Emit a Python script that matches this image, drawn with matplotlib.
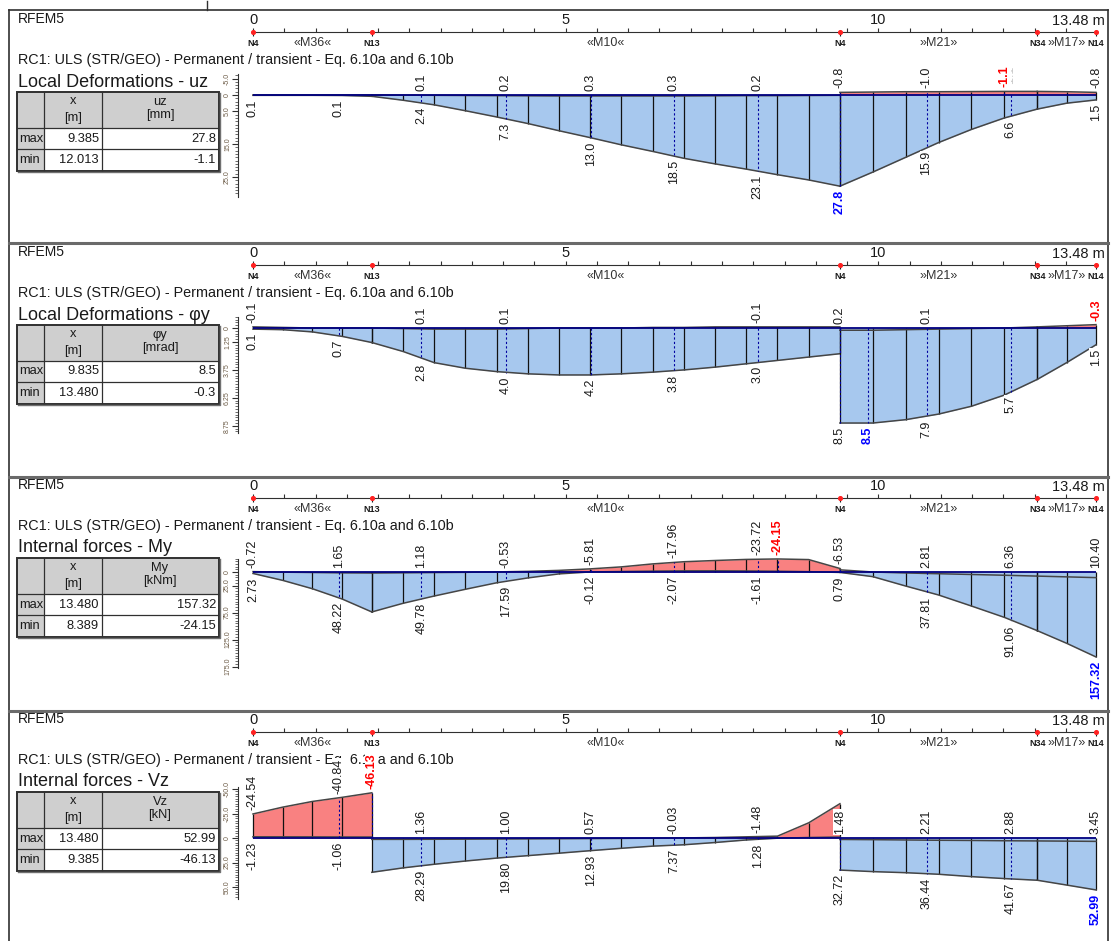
import numpy as np
import matplotlib
matplotlib.use('Agg')
import matplotlib.pyplot as plt
from matplotlib.patches import Rectangle
from matplotlib.ticker import FixedLocator

plt.rcParams['font.family'] = ['Liberation Sans', 'DejaVu Sans']

W, H = 1112, 941
X0PX, X1PX = 253, 1096          # pixel position of x=0 and x=13.48 m
L = 13.48
S = (X1PX - X0PX) / L           # px per metre

# structure: members, division points, nodes
x_m36 = [0.0, 0.475, 0.95, 1.425, 1.9]
x_m10 = [1.9, 2.399, 2.898, 3.397, 3.896, 4.395, 4.894, 5.393, 5.892,
         6.391, 6.89, 7.389, 7.888, 8.387, 8.886, 9.385]
x_m21 = [9.385, 9.911, 10.437, 10.963, 11.488, 12.014, 12.54]
x_m17 = [12.54, 13.01, 13.48]
member_x = [x_m36, x_m10, x_m21, x_m17]
member_names = ['«M36«', '«M10«', '»M21»', '»M17»']
node_x = [0.0, 1.9, 9.385, 12.54, 13.48]
node_names = ['N4', 'N13', 'N4', 'N34', 'N14']

# ---- Local deformations uz [mm]  (per member: M36, M10, M21, M17)
uz_max = [[0.1, 0.1, 0.1, 0.15, 0.4],
          [0.4, 1.6, 3.0, 4.8, 6.7, 8.7, 10.9, 13.0, 15.2, 17.2, 19.3, 21.0, 22.6, 24.3, 25.9, 27.8],
          [27.8, 23.5, 19.0, 14.5, 10.5, 7.0, 4.3],
          [4.3, 2.5, 1.5]]
uz_min = [[0.0, 0.0, 0.0, 0.0, 0.0],
          [0.0, 0.05, 0.1, 0.15, 0.2, 0.25, 0.3, 0.3, 0.3, 0.3, 0.3, 0.25, 0.2, 0.2, 0.15, 0.1],
          [-0.8, -0.9, -1.0, -1.0, -1.05, -1.1, -1.1],
          [-1.1, -1.0, -0.8]]
uz_upper = [(2.69, '0.1', ''), (4.04, '0.2', ''), (5.40, '0.3', ''), (6.73, '0.3', ''),
            (8.07, '0.2', ''), (9.385, '-0.8', ''), (10.77, '-1.0', ''),
            (12.115, '-1.1', 'g'), (12.013, '-1.1', 'r'), (13.48, '-0.8', '')]
uz_lower = [(0.0, '0.1', ''), (1.37, '0.1', ''), (2.69, '2.4', ''), (4.04, '7.3', ''),
            (5.40, '13.0', ''), (6.73, '18.5', ''), (8.07, '23.1', ''), (9.385, '27.8', 'b'),
            (10.77, '15.9', ''), (12.115, '6.6', ''), (13.48, '1.5', '')]

# ---- Local deformations phi_y [mrad]
phi_max = [[0.1, 0.15, 0.35, 0.75, 1.3],
           [1.3, 2.1, 3.1, 3.6, 3.9, 4.1, 4.2, 4.2, 4.1, 3.95, 3.75, 3.5, 3.2, 2.9, 2.6, 2.3],
           [8.5, 8.5, 8.2, 7.7, 7.0, 6.0, 4.6],
           [4.6, 3.1, 1.5]]
phi_min = [[-0.1, -0.05, 0.0, 0.0, 0.0],
           [0.0, 0.05, 0.1, 0.1, 0.1, 0.05, 0.0, 0.0, 0.0, -0.05, -0.05, -0.1, -0.1, -0.1, -0.1, -0.1],
           [0.2, 0.2, 0.15, 0.1, 0.05, 0.0, -0.1],
           [-0.1, -0.2, -0.3]]
phi_upper = [(0.0, '-0.1', ''), (2.69, '0.1', ''), (4.04, '0.1', ''), (8.07, '-0.1', ''),
             (9.385, '0.2', ''), (10.77, '0.1', ''), (13.48, '-0.3', 'r')]
phi_lower = [(0.0, '0.1', ''), (1.37, '0.7', ''), (2.69, '2.8', ''), (4.04, '4.0', ''),
             (5.40, '4.2', ''), (6.73, '3.8', ''), (8.07, '3.0', ''), (9.385, '8.5', ''),
             (9.835, '8.5', 'b'), (10.77, '7.9', ''), (12.115, '5.7', ''), (13.48, '1.5', '')]

# ---- Internal forces My [kNm]
my_max = [[2.73, 15.5, 31.0, 50.0, 74.0],
          [74.0, 58.0, 44.5, 32.0, 20.0, 11.0, 3.5, -0.12, -0.9, -1.6, -2.15, -2.2, -1.9, -1.4, -0.6, 0.79],
          [0.79, 8.6, 26.0, 42.6, 63.0, 84.0, 108.6],
          [108.6, 132.0, 157.32]]
my_min = [[-0.72, 0.3, 0.9, 1.6, 1.9],
          [1.9, 1.5, 1.0, 0.6, -0.2, -1.2, -3.0, -5.81, -9.5, -15.0, -19.0, -21.3, -23.3, -24.15, -23.0, -6.53],
          [-4.0, 0.0, 1.8, 3.2, 4.6, 6.0, 7.6],
          [7.6, 9.0, 10.40]]
my_upper = [(0.0, '-0.72', ''), (1.37, '1.65', ''), (2.69, '1.18', ''), (4.04, '-0.53', ''),
            (5.40, '-5.81', ''), (6.73, '-17.96', ''), (8.07, '-23.72', ''), (8.389, '-24.15', 'r'),
            (9.385, '-6.53', ''), (10.77, '2.81', ''), (12.115, '6.36', ''), (13.48, '10.40', '')]
my_lower = [(0.0, '2.73', ''), (1.37, '48.22', ''), (2.69, '49.78', ''), (4.04, '17.59', ''),
            (5.40, '-0.12', ''), (6.73, '-2.07', ''), (8.07, '-1.61', ''), (9.385, '0.79', ''),
            (10.77, '37.81', ''), (12.115, '91.06', ''), (13.48, '157.32', 'b')]

# ---- Internal forces Vz [kN]
vz_max = [[-1.23, -1.2, -1.15, -1.05, -1.0],
          [35.0, 30.5, 26.8, 23.5, 20.5, 18.0, 15.5, 12.93, 10.5, 8.3, 6.9, 4.6, 2.0, 0.2, -0.5, -1.0],
          [32.72, 34.3, 35.4, 37.0, 39.4, 41.4, 43.1],
          [43.1, 48.0, 52.99]]
vz_min = [[-24.54, -31.5, -37.3, -41.5, -46.13],
          [1.4, 1.4, 1.3, 1.2, 1.05, 0.9, 0.75, 0.57, 0.4, 0.15, -0.1, -0.5, -1.2, -1.9, -15.5, -35.0],
          [1.48, 1.7, 2.0, 2.3, 2.5, 2.8, 3.0],
          [3.0, 3.2, 3.45]]
vz_upper = [(0.0, '-24.54', ''), (1.37, '-40.84', ''), (1.9, '-46.13', 'r'), (2.69, '1.36', ''),
            (4.04, '1.00', ''), (5.40, '0.57', ''), (6.73, '-0.03', ''), (8.07, '-1.48', ''),
            (9.385, '1.48', ''), (10.77, '2.21', ''), (12.115, '2.88', ''), (13.48, '3.45', '')]
vz_lower = [(0.0, '-1.23', ''), (1.37, '-1.06', ''), (2.69, '28.29', ''), (4.04, '19.80', ''),
            (5.40, '12.93', ''), (6.73, '7.37', ''), (8.07, '1.28', ''), (9.385, '32.72', ''),
            (10.77, '36.44', ''), (12.115, '41.67', ''), (13.48, '52.99', 'b')]

panels = [
    dict(R=32, Z=95, k=3.28, mx=uz_max, mn=uz_min, up=uz_upper, lo=uz_lower,
         heading='Local Deformations - uz', col='uz', unit='[mm]',
         rows=[('max', '9.385', '27.8'), ('min', '12.013', '-1.1')],
         ruler=(-6.5, 31.0, [-5, 0, 5, 15, 25], ['-5.0', '0', '5.0', '15.0', '25.0'], 1.0)),
    dict(R=265, Z=328, k=11.18, mx=phi_max, mn=phi_min, up=phi_upper, lo=phi_lower,
         heading='Local Deformations - φy', col='φy', unit='[mrad]',
         rows=[('max', '9.835', '8.5'), ('min', '13.480', '-0.3')],
         ruler=(-1.0, 9.4, [0, 1.25, 3.75, 6.25, 8.75], ['0', '1.25', '3.75', '6.25', '8.75'], 0.25)),
    dict(R=498, Z=572, k=0.54, mx=my_max, mn=my_min, up=my_upper, lo=my_lower,
         heading='Internal forces - My', col='My', unit='[kNm]',
         rows=[('max', '13.480', '157.32'), ('min', '8.389', '-24.15')],
         ruler=(-25.0, 178.0, [0, 25, 75, 125, 175], ['0', '25.0', '75.0', '125.0', '175.0'], 5.0)),
    dict(R=732, Z=838, k=0.98, mx=vz_max, mn=vz_min, up=vz_upper, lo=vz_lower,
         heading='Internal forces - Vz', col='Vz', unit='[kN]',
         rows=[('max', '13.480', '52.99'), ('min', '9.385', '-46.13')],
         ruler=(-52.0, 62.0, [-50, -25, 0, 25, 50], ['-50.0', '-25.0', '0', '25.0', '50.0'], 2.5)),
]

BLUE = '#a7c8ee'
RED = '#f98181'
EDGE = '#454545'
NAVY = '#000080'
TXT = '#1a1a1a'
STYLE = {'': (TXT, 'normal'), 'r': ('#ff0000', 'bold'), 'b': ('#0000ff', 'bold'), 'g': ('#c8c8c8', 'normal')}

fig = plt.figure(figsize=(W / 100, H / 100), dpi=100)


def px_axes(x0, y0, x1, y1):
    return fig.add_axes([x0 / W, 1 - y1 / H, (x1 - x0) / W, (y1 - y0) / H])


bg = fig.add_axes([0, 0, 1, 1])
bg.set_xlim(0, W)
bg.set_ylim(H, 0)
bg.axis('off')

# frame
bg.plot([9, 9], [10, H], color='#303030', lw=1.2)
bg.plot([1108, 1108], [10, H], color='#303030', lw=1.2)
bg.plot([9, 1108], [10, 10], color='#303030', lw=1.2)
bg.plot([207, 207], [1, 10], color='#303030', lw=1)
for ys in [243, 477, 711]:
    bg.plot([9, 1108], [ys, ys], color='#6a6a6a', lw=2.2)

xl = ((222 - X0PX) / S, (1108 - X0PX) / S)

for p in panels:
    R, Z, k = p['R'], p['Z'], p['k']

    # texts left
    bg.text(18, R - 13, 'RFEM5', fontsize=10, va='center', ha='left', color=TXT)
    bg.text(18, R + 28, 'RC1: ULS (STR/GEO) - Permanent / transient - Eq. 6.10a and 6.10b',
            fontsize=10.4, va='center', ha='left', color=TXT)
    bg.text(18, R + 50, p['heading'], fontsize=13, va='center', ha='left', color=TXT)

    # table
    cx = [17, 44, 102, 219]
    ty = [R + 60, R + 96, R + 117, R + 139]
    bg.add_patch(Rectangle((cx[0], ty[0]), cx[3] - cx[0], ty[1] - ty[0], fc='#cfcfcf', ec='none'))
    bg.add_patch(Rectangle((cx[0], ty[1]), cx[1] - cx[0], ty[3] - ty[1], fc='#cfcfcf', ec='none'))
    for xx in cx[1:3]:
        bg.plot([xx, xx], [ty[0], ty[3]], color='#303030', lw=0.9)
    for yy in ty[1:3]:
        bg.plot([cx[0], cx[3]], [yy, yy], color='#303030', lw=0.9)
    bg.add_patch(Rectangle((cx[0], ty[0]), cx[3] - cx[0], ty[3] - ty[0], fc='none', ec='#303030', lw=1.4))
    bg.plot([cx[0] + 1, cx[3] + 1, cx[3] + 1], [ty[3] + 1, ty[3] + 1, ty[0] + 1], color='#707070', lw=1)
    bg.text(73, R + 69, 'x', fontsize=9.3, ha='center', va='center', color=TXT)
    bg.text(73, R + 86, '[m]', fontsize=9.3, ha='center', va='center', color=TXT)
    bg.text(160, R + 70, p['col'], fontsize=9.3, ha='center', va='center', color=TXT)
    bg.text(160, R + 83, p['unit'], fontsize=9.3, ha='center', va='center', color=TXT)
    for (name, xv, vv), y0, y1 in zip(p['rows'], ty[1:3], ty[2:4]):
        yc = (y0 + y1) / 2
        bg.text(19, yc, name, fontsize=9.3, ha='left', va='center', color=TXT)
        bg.text(99, yc, xv, fontsize=9.3, ha='right', va='center', color=TXT)
        bg.text(216, yc, vv, fontsize=9.3, ha='right', va='center', color=TXT)

    # top ruler
    rax = px_axes(222, R - 14, 1108, R + 14)
    rax.set_xlim(*xl)
    rax.set_ylim(-1, 1)
    rax.patch.set_visible(False)
    for s in ['left', 'right', 'bottom']:
        rax.spines[s].set_visible(False)
    rax.spines['top'].set_position(('data', 0))
    rax.spines['top'].set_bounds(0, L)
    rax.spines['top'].set_color('#303030')
    rax.xaxis.tick_top()
    rax.set_xticks([0, 5, 10], labels=['0', '5', '10'])
    rax.xaxis.set_minor_locator(FixedLocator(np.arange(0.5, L, 0.5)))
    rax.tick_params(axis='x', which='both', direction='out', length=3, width=0.8,
                    labelsize=10.5, pad=0.5, colors='#303030', labelcolor=TXT)
    rax.set_yticks([])
    rax.text(L + 9 / S, 0.3, '13.48 m', fontsize=10.5, ha='right', va='bottom', color=TXT)
    rax.vlines(node_x, -0.25, 0, color='#202020', lw=0.8)
    rax.scatter(node_x, [0] * len(node_x), s=7, color='#ff2020', zorder=5, clip_on=False)
    for nx, nn in zip(node_x, node_names):
        rax.text(nx, -0.8, nn, fontsize=6.5, fontweight='bold', ha='center', va='center', color=TXT)
    for xm, mn_ in zip(member_x, member_names):
        rax.text((xm[0] + xm[-1]) / 2, -0.8, mn_, fontsize=9, ha='center', va='center', color='#333333')

    # diagram
    y0p, y1p = R + 16, R + 205
    ax = px_axes(222, y0p, 1108, y1p)
    ax.set_zorder(2)
    ax.patch.set_visible(False)
    ax.set_xlim(*xl)
    ax.set_ylim((y1p - Z) / k, (y0p - Z) / k)

    for xm, a, b in zip(member_x, p['mx'], p['mn']):
        xm = np.array(xm)
        a = np.array(a)
        b = np.array(b)
        for arr in (a, b):
            ax.fill_between(xm, 0, arr, where=arr >= 0, interpolate=True, color=BLUE, lw=0)
            ax.fill_between(xm, 0, arr, where=arr <= 0, interpolate=True, color=RED, lw=0)
        ax.vlines(xm, np.minimum(b, 0), np.maximum(a, 0), color='#111111', lw=0.9, zorder=3)
        ax.plot(xm, a, color=EDGE, lw=1.1, zorder=3)
        ax.plot(xm, b, color=EDGE, lw=1.1, zorder=3)
    ax.hlines(0, 0, L, color=NAVY, lw=1.3, zorder=4)

    # value labels
    for side, items in (('up', p['up']), ('lo', p['lo'])):
        for xv, txt, st in items:
            v = float(txt)
            if side == 'up':
                yv, dy, va = min(v, 0), 4, 'bottom'
            else:
                yv, dy, va = max(v, 0), -4, 'top'
            if 0 < xv < L and st != 'g':
                ax.vlines(xv, 0, yv, color='#0000a0', lw=0.8, linestyles=(0, (2, 2)), zorder=4)
            c, fw = STYLE[st]
            ax.annotate(txt, (xv, yv), xytext=(0, dy), textcoords='offset pixels', rotation=90,
                        ha='center', va=va, fontsize=9, color=c, fontweight=fw, zorder=6,
                        annotation_clip=False,
                        bbox=dict(boxstyle='square,pad=0.05', fc='white', ec='none'))

    # vertical scale
    lo_, hi_, maj, labs, step = p['ruler']
    for s in ['right', 'top', 'bottom']:
        ax.spines[s].set_visible(False)
    ax.spines['left'].set_position(('data', (238 - X0PX) / S))
    ax.spines['left'].set_bounds(lo_, hi_)
    ax.spines['left'].set_color('#303030')
    ax.set_xticks([])
    ax.set_yticks(maj, labels=labs)
    ax.yaxis.set_minor_locator(FixedLocator(np.arange(np.ceil(lo_ / step) * step, hi_, step)))
    ax.tick_params(axis='y', which='major', length=4, width=0.8, labelsize=5, pad=1,
                   colors='#303030', labelcolor='#6b5a45')
    ax.tick_params(axis='y', which='minor', length=2, width=0.5, colors='#303030')
    for t in ax.get_yticklabels():
        t.set_rotation(90)
        t.set_verticalalignment('center')

fig.savefig('out.png', dpi=100, facecolor='white')
